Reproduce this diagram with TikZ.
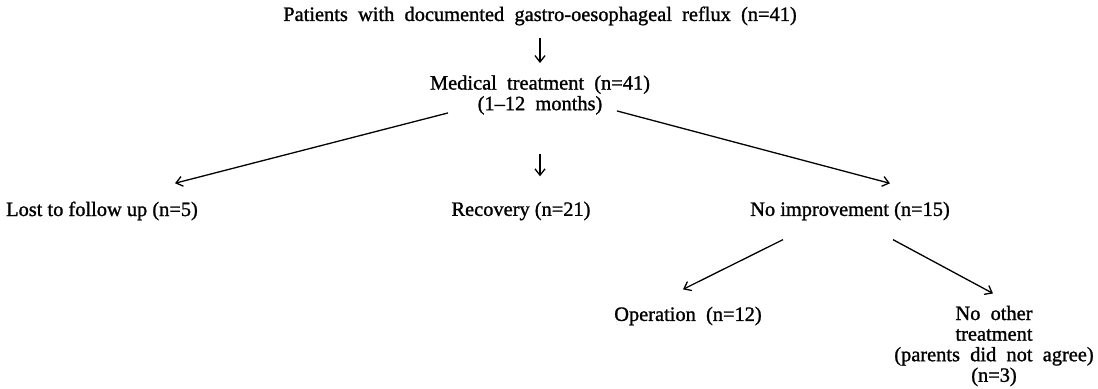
\documentclass[tikz,border=0pt]{standalone}
\usepackage{fontspec}
\setmainfont{Liberation Serif}
\newfontfamily\heavyserif{Liberation Serif}[Ligatures=TeX, BoldFont=Liberation Serif, BoldFeatures={FakeBold=1.2}]
\usetikzlibrary{arrows.meta,positioning}

\newcommand{\widespace}{\spaceskip=0.5em\relax}

\tikzset{
  box/.style={inner sep=1pt, font=\heavyserif\bfseries\fontsize{10.2}{10.3}\selectfont},
  wbox/.style={box, font=\heavyserif\bfseries\fontsize{10.2}{10.3}\selectfont\widespace},
  arr/.style={-{Straight Barb[length=3.2pt,width=5pt]}, line width=0.65pt}
}

\begin{document}
\begin{tikzpicture}[x=0.5pt,y=-0.5pt]

  \useasboundingbox (0,0) rectangle (1098,389);

  % Define nodes

  % top level
  \node[wbox] (pat) at (540,16) {Patients with documented gastro-oesophageal reflux (n=41)};
  \node[wbox, align=center] (med) at (540,95) {Medical treatment (n=41)\\(1--12 months)};

  % outcomes
  \node[box] (lost) at (102,211) {Lost to follow up (n=5)};
  \node[box] (rec)  at (521,211) {Recovery (n=21)};
  \node[box] (noimp) at (850,211) {No improvement (n=15)};

  % no improvement
  \node[wbox] (op) at (688,316) {Operation (n=12)};
  \node[wbox, align=center] (none) at (994,346) {No other\\treatment\\(parents did not agree)\\(n=3)};

  % Edges
  \draw[arr, shorten <=5pt, shorten >=5pt] (pat) -- (med);
  \draw[arr] ([shift={(-92,-4)}]med.south) -- ([shift={(73,-16)}]lost.north);
  \draw[arr] ([shift={(0,37)}]med.south) -- ([shift={(19,-23)}]rec.north);
  \draw[arr] ([shift={(77,-6)}]med.south) -- ([shift={(40,-16)}]noimp.north);
  \draw[arr] ([shift={(-67,17)}]noimp.south) -- ([shift={(-5,-15)}]op.north);
  \draw[arr] ([shift={(43,17)}]noimp.south) -- ([shift={(-1,-10)}]none.north);

\end{tikzpicture}
\end{document}
